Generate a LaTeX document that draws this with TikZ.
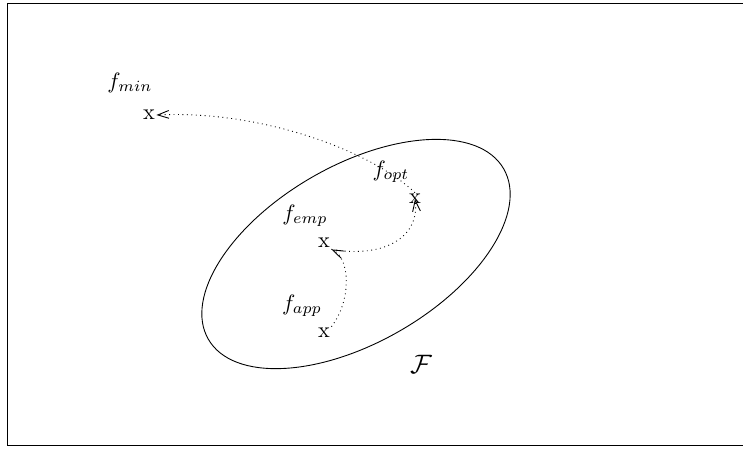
\documentclass[tikz,border=0pt]{standalone}
\usetikzlibrary{shapes.geometric,arrows.meta}
\begin{document}
\begin{tikzpicture}[x=0.45pt,y=-0.45pt,
  xmark/.style={inner sep=0.5pt},
  lbl/.style={inner sep=0pt},
  arr/.style={dash pattern=on 0.4pt off 1.6pt,-{Straight Barb[length=5pt,width=3.5pt]}},
  setshape/.style={draw,ellipse,inner sep=0pt,minimum width=341*0.45pt,minimum height=177*0.45pt,rotate=30}]
\useasboundingbox (0,0) rectangle (743,448);
\draw (744,3) -- (7,3) -- (7,445) -- (744,445);
\node[setshape] (F) at (356,254) {};
\node[lbl] (Flbl) at (421,364) {\large$\mathcal{F}$};
\node[xmark] (min) at (149,115) {x};
\node[xmark] (opt) at (415,199) {x};
\node[xmark] (emp) at (324,243) {x};
\node[xmark] (app) at (324,333) {x};
\node[lbl] (minlbl) at (130,83) {$f_{min}$};
\node[lbl] (optlbl) at (391,172) {$f_{opt}$};
\node[lbl] (emplbl) at (305,216) {$f_{emp}$};
\node[lbl] (applbl) at (302,306) {$f_{app}$};
\draw[arr] (app.north east) .. controls (352,300) and (350,258) .. (emp.south east);
\draw[arr] (emp.south east) .. controls (380,258) and (420,240) .. (opt.center);
\draw[arr] (opt.north) .. controls (370,150) and (260,110) .. (min.east);
\end{tikzpicture}
\end{document}
